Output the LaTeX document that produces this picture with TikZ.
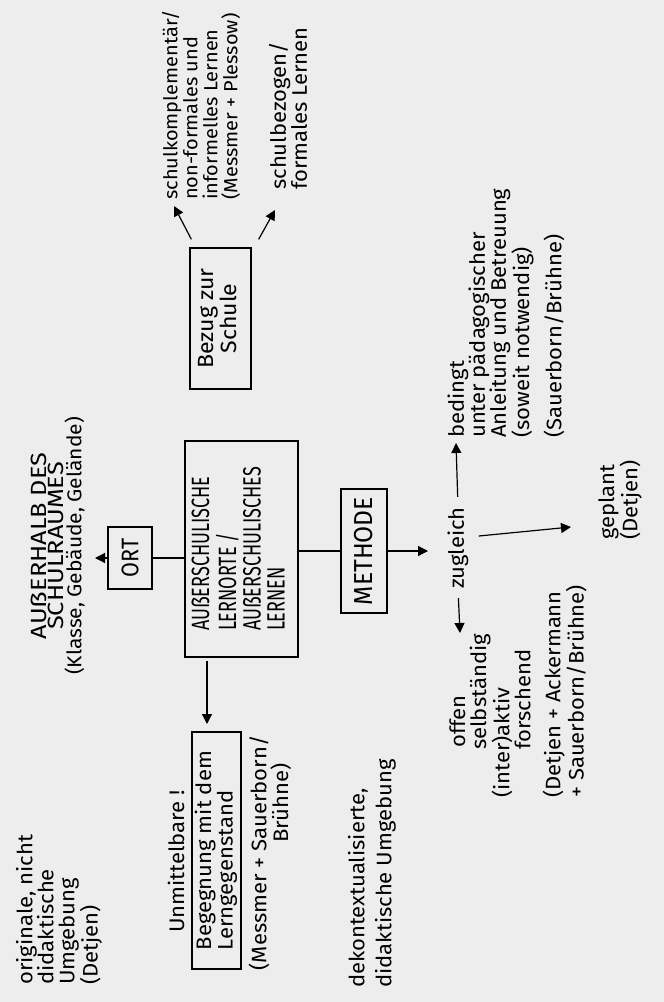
\documentclass[tikz,border=0pt]{standalone}
\usepackage{fontspec}
\usetikzlibrary{arrows.meta}
\newfontfamily\hwfont[FakeStretch=1.05]{Fira Sans}
\newfontfamily\hwcaps[FakeStretch=0.72]{Fira Sans}
\newfontfamily\hwcapsw[FakeStretch=1.15]{Fira Sans}
\newfontfamily\hwmeth[FakeStretch=0.95]{Fira Sans}
\newfontfamily\hwort[FakeStretch=0.9]{Fira Sans}
\definecolor{bg}{HTML}{EDEDED}
\tikzset{
  lbl/.style={rotate=90, anchor=west, align=left, inner sep=0pt, text=black,
    font=\hwfont\fontsize{21}{21}\selectfont},
  boxn/.style={draw, line width=1.2pt, inner sep=0pt},
  ln/.style={line width=1.2pt},
  arr/.style={ln, -{Triangle[length=10pt,width=10pt]}},
}
\begin{document}
\begin{tikzpicture}[x=1pt,y=-1pt]
\fill[bg] (0,0) rectangle (664,1002);
\useasboundingbox (0,0) rectangle (664,1002);

% central box
\node[boxn, minimum width=113pt, minimum height=216pt] (main) at (241.5,549)
  {\rotatebox{90}{\hwcaps\fontsize{25}{23}\selectfont\begin{tabular}{@{}l@{}}AUẞERSCHULISCHE\\LERNORTE /\\AUẞERSCHULISCHES\\LERNEN\end{tabular}}};

% ORT
\node[boxn, minimum width=44pt, minimum height=62pt] (ort) at (130,558)
  {\rotatebox{90}{\hwort\fontsize{24}{24}\selectfont ORT}};
\coordinate (ortTip) at (95,558);
\draw[ln] (ort.east) -- (ort.east -| main.west);
\draw[arr] (ort.west) -- (ortTip);
\node[rotate=90, anchor=center, align=center, inner sep=0pt] (ausser) at (58,546)
  {\hwcapsw\fontsize{22}{22}\selectfont AUẞERHALB DES\\
   \hwcapsw\fontsize{22}{22}\selectfont SCHULRAUMES\\
   \hwfont\fontsize{20}{23}\selectfont (Klasse, Gebäude, Gelände)};

% Bezug zur Schule
\node[boxn, minimum width=61pt, minimum height=141pt] (bez) at (220.5,318.5)
  {\rotatebox{90}{\hwfont\fontsize{22}{22}\selectfont\begin{tabular}{@{}c@{}}Bezug zur\\Schule\end{tabular}}};
\coordinate (skTip) at (174,206);
\coordinate (sbTip) at (275,210);
\draw[arr] ([xshift=2pt,yshift=8pt]bez.north west) -- (skTip);
\draw[arr] ([xshift=7pt,yshift=8pt]bez.north east) -- (sbTip);
\node[lbl, font=\hwfont\fontsize{19}{20}\selectfont] (sk) at (201,200) {schulkomplementär/\\non-formales und\\informelles Lernen\\(Messmer + Plessow)};
\node[lbl] (sb) at (288,190) {schulbezogen/\\formales Lernen};

% Begegnung
\node[boxn, minimum width=49pt, minimum height=237pt] (beg) at (216.5,850.5)
  {\rotatebox{90}{\hwfont\fontsize{21}{19}\selectfont\begin{tabular}{@{}l@{}}Begegnung mit dem\\Lerngegenstand\end{tabular}}};
\coordinate (begTip) at (207,724);
\draw[arr] ([xshift=-34.5pt,yshift=-3pt]main.south) -- (begTip);
\node[lbl] (unm) at (176,933) {Unmittelbare !};
\node[lbl, anchor=east, align=right, font=\hwfont\fontsize{21}{16}\selectfont] (mes) at (270,735)
  {(Messmer + Sauerborn/\\Brühne)\makebox[28pt]{}};
\node[lbl] (orig) at (59,985) {originale, nicht\\didaktische\\Umgebung\\(Detjen)};
\node[lbl, font=\hwfont\fontsize{21}{27}\selectfont] (dek) at (372,988) {dekontextualisierte,\\didaktische Umgebung};

% Methode
\node[boxn, minimum width=46pt, minimum height=124pt] (meth) at (364,551)
  {\rotatebox{90}{\hwmeth\fontsize{26}{26}\selectfont METHODE}};
\draw[ln] (main.east |- meth.west) -- (meth.west);
\coordinate (zugL) at (428,551);
\draw[arr] (meth.east) -- (zugL);
\node[lbl, anchor=center, font=\hwfont\fontsize{21}{21}\selectfont] (zug) at (458,548) {zugleich};
\coordinate (bedTip) at (456,443);
\coordinate (offTip) at (460,633);
\coordinate (gepTip) at (571,527);
\draw[arr, shorten <=10pt] (zug.east) -- (bedTip);
\draw[arr, shorten <=9pt] (zug.west) -- (offTip);
\draw[arr, shorten <=10pt] ([yshift=11pt]zug.south) -- (gepTip);

\node[lbl] (bed) at (506,438) {bedingt\\unter pädagogischer\\Anleitung und Betreuung\\(soweit notwendig)\\[9pt](Sauerborn/Brühne)};
\node[lbl] (gep) at (620,540) {geplant\\(Detjen)};
\node[lbl] (off) at (518,798) {\hspace*{50pt}offen\\\hspace*{48pt}selbständig\\(inter)aktiv\\\hspace*{48pt}forschend\\[9pt](Detjen + Ackermann\\+ Sauerborn/Brühne)};
\end{tikzpicture}
\end{document}
